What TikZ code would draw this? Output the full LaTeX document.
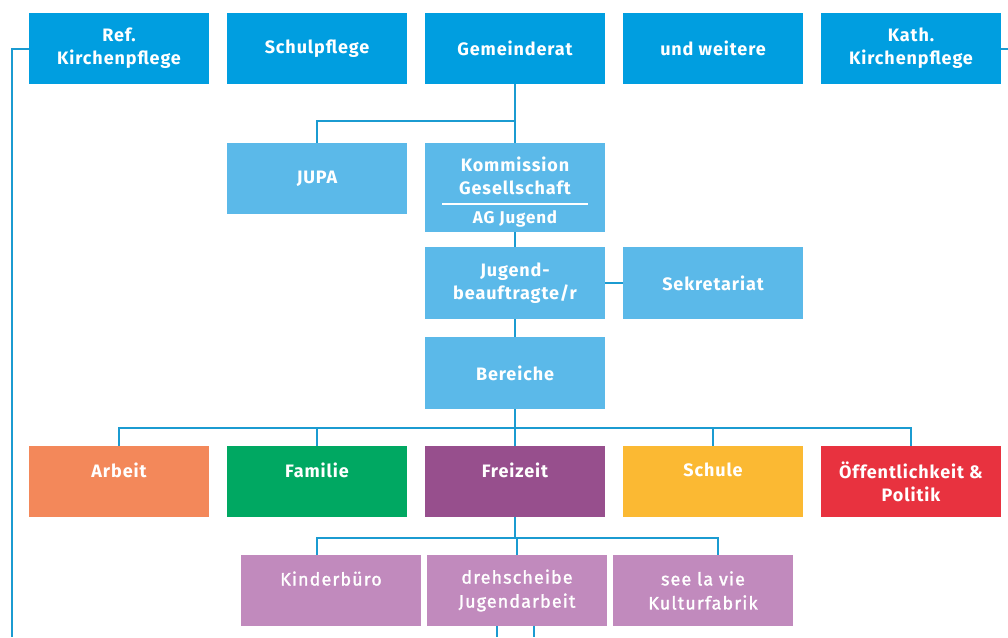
\documentclass[tikz,border=0pt]{standalone}
\usepackage{fontspec}
\setmainfont[LetterSpace=5]{Fira Sans}
\newfontfamily\subfont[LetterSpace=6,FakeBold=1.5]{Fira Sans}
\definecolor{topblue}{RGB}{0,158,224}
\definecolor{midblue}{RGB}{91,185,233}
\definecolor{linkblue}{RGB}{27,155,209}
\definecolor{arbcol}{RGB}{243,136,90}
\definecolor{famcol}{RGB}{0,168,98}
\definecolor{freicol}{RGB}{151,79,141}
\definecolor{schcol}{RGB}{251,185,51}
\definecolor{oefcol}{RGB}{232,50,63}
\definecolor{subcol}{RGB}{193,138,189}
\begin{document}
\begin{tikzpicture}
	[
	x=1pt, y=-1pt,
	align=center,
	box/.style={rectangle, text=white, inner sep=0pt, minimum width=180pt, minimum height=71pt,
		font=\fontsize{18}{23}\selectfont\bfseries},
	board/.style={box, fill=topblue},
	unit/.style={box, fill=midblue},
	area/.style={box},
	sub/.style={box, fill=subcol, font=\fontsize{18}{24}\selectfont\subfont},
	link/.style={draw=linkblue, line width=2pt}
	]
		\useasboundingbox (0,0) rectangle (1008,637);
		
		% top row
		\node (ref) [board] at (119, 48.5) {Ref.\\Kirchenpflege};
		\node (schp) [board] at (317, 48.5) {Schulpflege};
		\node (gem) [board] at (515, 48.5) {Gemeinderat};
		\node (weit) [board] at (713, 48.5) {und weitere};
		\node (kath) [board] at (911, 48.5) {Kath.\\Kirchenpflege};
		
		% middle
		\node (jupa) [unit] at (317, 178.5) {JUPA};
		\node (komm) [unit, minimum height=89pt] at (515, 187.5)
			{\rule{0pt}{24pt}Kommission\\Gesellschaft\\[-13pt]\rule{146pt}{2pt}\\[-4pt]{\fontsize{17}{17}\selectfont AG Jugend}};
		\node (jug) [unit, minimum height=72pt] at (515, 283) {Jugend-\\beauftragte/r};
		\node (sek) [unit, minimum height=72pt] at (713, 283) {Sekretariat};
		\node (ber) [unit, minimum height=72pt] at (515, 373) {Bereiche};
		
		% areas
		\node (arb) [area, fill=arbcol] at (119, 481.5) {Arbeit\\\mbox{}};
		\node (fam) [area, fill=famcol] at (317, 481.5) {Familie\\\mbox{}};
		\node (frei) [area, fill=freicol] at (515, 481.5) {Freizeit\\\mbox{}};
		\node (sch) [area, fill=schcol] at (713, 481.5) {Schule\\\mbox{}};
		\node (oef) [area, fill=oefcol] at (911, 481.5) {Öffentlichkeit \&\\Politik};
		
		% Freizeit
		\node (kind) [sub] at (331, 590.5) {Kinderbüro\\\mbox{}};
		\node (dreh) [sub] at (517, 590.5) {drehscheibe\\Jugendarbeit};
		\node (see) [sub] at (703, 590.5) {see la vie\\Kulturfabrik};
		
		\coordinate (leftend) at (12, 637);
		\coordinate (rightend) at (1008, 48.5);
		\coordinate (out1) at (497, 637);
		\coordinate (out2) at (534, 637);
		
		% drawing code
		\draw [link] (ref.west) -| (leftend);
		\draw [link] (kath.east) -- (rightend);
		\draw [link] (gem.south) -- ++(0,37) -| (jupa.north);
		\foreach \from/\to in {gem/komm,komm/jug,jug/sek,jug/ber} \draw [link] (\from) -- (\to);
		\foreach \to in {arb,fam,frei,sch,oef} \draw [link] (ber.south) -- ++(0,19) -| (\to.north);
		\foreach \to/\dx in {kind/-14,dreh/0,see/15} \draw [link] (frei.south) -- ++(0,21) -| ([xshift=\dx]\to.north);
		\foreach \to in {out1,out2} \draw [link] (dreh.south -| \to) -- (\to);
	\end{tikzpicture}
\end{document}
